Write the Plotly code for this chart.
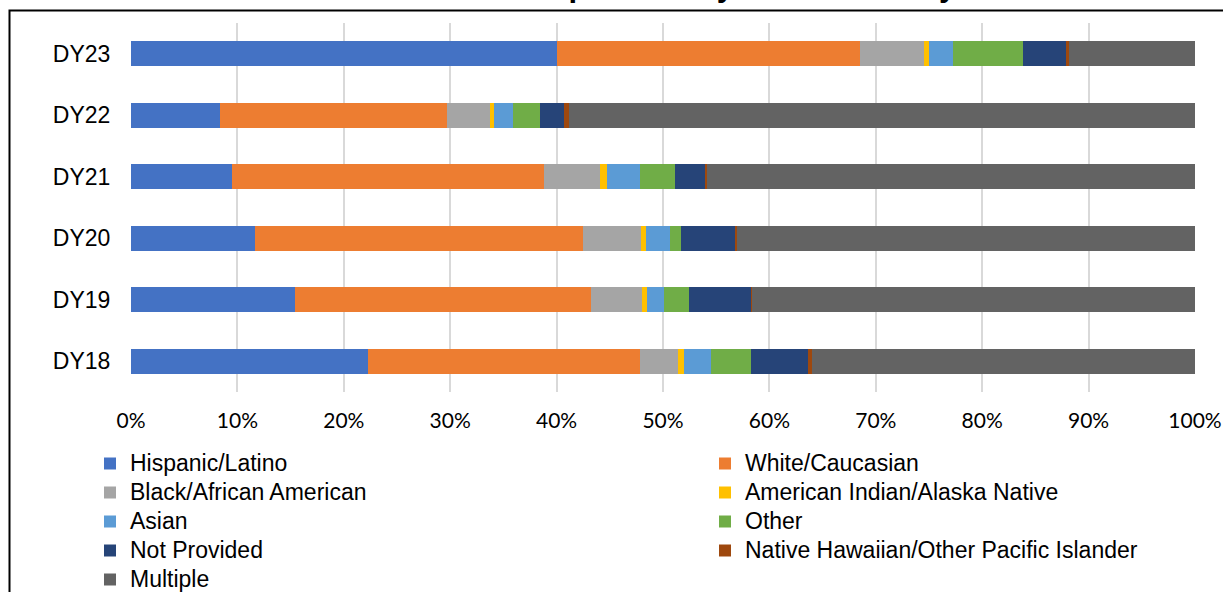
import plotly.graph_objects as go

categories = ["DY18", "DY19", "DY20", "DY21", "DY22", "DY23"]

hispanic = [22.3, 15.4, 11.7, 9.5, 8.4, 40.0]
white = [25.5, 27.8, 30.8, 29.3, 21.3, 28.5]
black = [3.6, 4.8, 5.4, 5.3, 4.0, 6.0]
am_indian = [0.6, 0.5, 0.5, 0.6, 0.4, 0.5]
asian = [2.5, 1.6, 2.3, 3.1, 1.8, 2.3]
other = [3.8, 2.3, 1.0, 3.3, 2.5, 6.5]
not_provided = [5.3, 5.9, 5.1, 2.8, 2.3, 4.1]
nhpi = [0.4, 0.1, 0.2, 0.2, 0.5, 0.3]
multiple = [36.0, 41.6, 43.0, 45.9, 58.8, 11.8]

series_names = ["Hispanic/Latino", "White/Caucasian", "Black/African American",
                "American Indian/Alaska Native", "Asian", "Other", "Not Provided",
                "Native Hawaiian/Other Pacific Islander", "Multiple"]
series_values = [hispanic, white, black, am_indian, asian, other, not_provided, nhpi, multiple]
colors = ["#4472C4", "#ED7D31", "#A5A5A5", "#FFC000", "#5B9BD5", "#70AD47",
          "#264478", "#9E480E", "#636363"]

x_ticks = [0, 10, 20, 30, 40, 50, 60, 70, 80, 90, 100]
x_tick_labels = [f"{v}%" for v in x_ticks]

title_text = "Population by Race/Ethnicity"

# layout geometry (pixels)
W, H = 1223, 592
ML, MR, MT, MB = 131, 28, 23, 200
PW = W - ML - MR
PH = H - MT - MB

def px_x(p):
    return (p - ML) / PW

def px_y(p):
    return (H - MB - p) / PH

fig = go.Figure()
for i, (name, vals, col) in enumerate(zip(series_names, series_values, colors)):
    fig.add_trace(go.Bar(
        y=categories, x=vals, name=f'<span style="font-size:23px">{name}</span>',
        orientation="h", marker=dict(color=col, line=dict(width=0)),
        legend="legend" if i % 2 == 0 else "legend2",
    ))

legend_common = dict(
    orientation="v", font=dict(family="Arial", size=20, color="#000000"),
    bgcolor="rgba(0,0,0,0)", borderwidth=0, yanchor="top", xanchor="left",
    traceorder="normal",
)

fig.update_layout(
    width=W, height=H,
    margin=dict(l=ML, r=MR, t=MT, b=MB, autoexpand=False),
    barmode="stack", bargap=0.59,
    paper_bgcolor="white", plot_bgcolor="white",
    font=dict(family="Arial", color="#000000"),
    xaxis=dict(range=[0, 100], tickvals=x_ticks, ticktext=x_tick_labels,
               showgrid=True, gridcolor="#D9D9D9", gridwidth=2,
               zeroline=False, showline=False,
               ticks="outside", ticklen=10, tickcolor="rgba(0,0,0,0)",
               tickfont=dict(family="Lato", size=21, color="#000000")),
    yaxis=dict(categoryorder="array", categoryarray=categories,
               showgrid=False, zeroline=False, showline=False,
               ticks="outside", ticklen=15, tickcolor="rgba(0,0,0,0)",
               tickfont=dict(family="Arial", size=23, color="#000000")),
    legend=dict(x=px_x(90), y=px_y(444), **legend_common),
    legend2=dict(x=px_x(705), y=px_y(444), **legend_common),
    showlegend=True,
    shapes=[dict(type="rect", xref="paper", yref="paper",
                 x0=px_x(9.5), x1=px_x(1400), y0=px_y(10.5), y1=px_y(700),
                 line=dict(color="#000000", width=2), fillcolor="rgba(0,0,0,0)",
                 layer="above")],
    annotations=[dict(text=f"<b>{title_text}</b>", xref="paper", yref="paper",
                      x=px_x(527), y=px_y(5.5), xanchor="left", yanchor="bottom",
                      showarrow=False, font=dict(family="Arial", size=31, color="#000000"))],
)

fig.write_html("out.html")
